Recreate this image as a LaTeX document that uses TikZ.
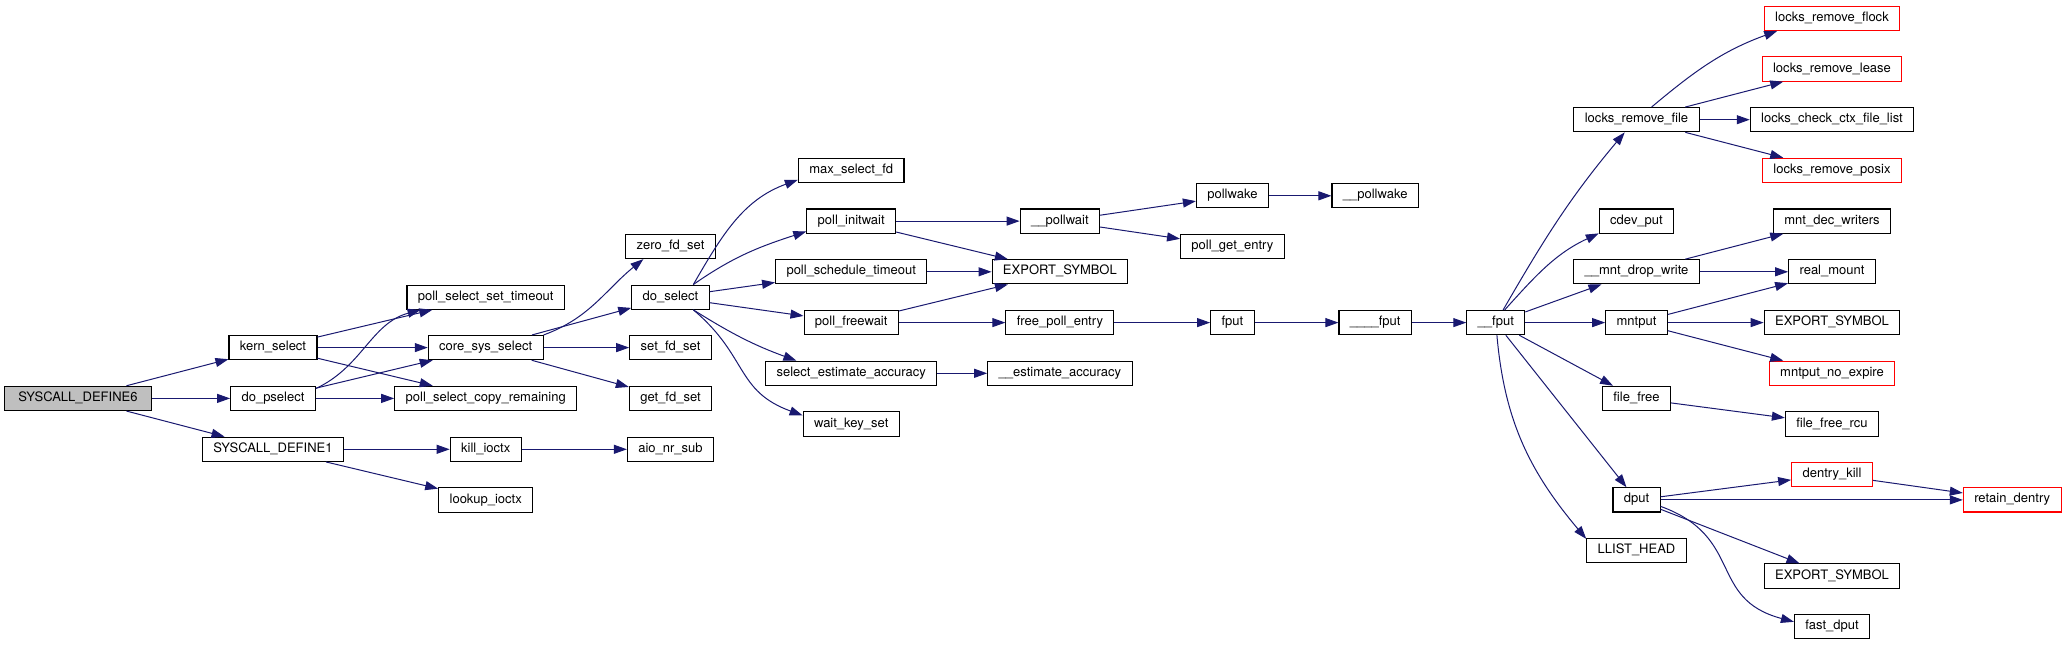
\documentclass[tikz,border=0pt]{standalone}
\usepackage{fontspec}
\setmainfont{TeX Gyre Heros}
\usepackage{xcolor}
\usepackage{tikz}
\usetikzlibrary{arrows.meta}

\definecolor{callblue}{HTML}{191970}
\definecolor{refred}{HTML}{FF0000}
\definecolor{rootgray}{HTML}{BFBFBF}

\begin{document}
\begin{tikzpicture}[>={Triangle[length=13pt,width=9pt]}, x=1pt, y=-1pt,
    fn/.style={draw=black, line width=1.1pt, fill=white, minimum height=24.2pt,
        inner xsep=10.9pt, inner ysep=0pt, text height=9.5pt, text depth=3.5pt,
        font=\fontsize{13}{15}\selectfont},
    fnred/.style={fn, draw=refred},
    fnroot/.style={fn, fill=rootgray, minimum width=146.7pt},
    callarr/.style={->, draw=callblue, line width=1pt}]
    \useasboundingbox (0,0) rectangle (2067,645);

    % Vẽ các nút
    \node[fnroot] (sysdef6) at (78,398.4) {SYSCALL\_DEFINE6};
    \node[fn] (kernsel) at (273,347.6) {kern\_select};
    \node[fn] (dopsel) at (273,398.4) {do\_pselect};
    \node[fn] (sysdef1) at (273,449.3) {SYSCALL\_DEFINE1};
    \node[fn] (settimeout) at (485.7,297.2) {poll\_select\_set\_timeout};
    \node[fn] (coresel) at (485.7,347.6) {core\_sys\_select};
    \node[fn] (copyrem) at (485.7,398.4) {poll\_select\_copy\_remaining};
    \node[fn] (killio) at (485.7,449.3) {kill\_ioctx};
    \node[fn] (lookupio) at (485.7,500) {lookup\_ioctx};
    \node[fn] (zerofd) at (670.5,246.5) {zero\_fd\_set};
    \node[fn] (dosel) at (670.5,297.2) {do\_select};
    \node[fn] (setfd) at (670.5,347.6) {set\_fd\_set};
    \node[fn] (getfd) at (670.5,398.4) {get\_fd\_set};
    \node[fn] (aiosub) at (670.5,449.3) {aio\_nr\_sub};
    \node[fn] (maxfd) at (851.2,170.4) {max\_select\_fd};
    \node[fn] (initwait) at (851.2,221.1) {poll\_initwait};
    \node[fn] (schedto) at (851.2,271.8) {poll\_schedule\_timeout};
    \node[fn] (freewait) at (851.2,322.6) {poll\_freewait};
    \node[fn] (selest) at (851.2,373.3) {select\_estimate\_accuracy};
    \node[fn] (waitkey) at (851.2,424) {wait\_key\_set};
    \node[fn] (pollwait) at (1059.9,221.1) {\_\_pollwait};
    \node[fn] (export1) at (1059.9,271.8) {EXPORT\_SYMBOL};
    \node[fn] (freeentry) at (1059.9,322.6) {free\_poll\_entry};
    \node[fn] (estacc) at (1059.9,373.3) {\_\_estimate\_accuracy};
    \node[fn] (pollwake) at (1232.4,195.8) {pollwake};
    \node[fn] (getentry) at (1232.4,246.5) {poll\_get\_entry};
    \node[fn] (fput) at (1232.4,322.6) {fput};
    \node[fn] (pollwaketwo) at (1375.2,195.8) {\_\_pollwake};
    \node[fn] (fputfour) at (1375.2,322.6) {\_\_\_\_fput};
    \node[fn] (fputtwo) at (1495.8,322.6) {\_\_fput};
    \node[fn] (rmfile) at (1636.5,119.7) {locks\_remove\_file};
    \node[fn] (cdevput) at (1636.5,221.1) {cdev\_put};
    \node[fn] (dropwrite) at (1636.5,271.8) {\_\_mnt\_drop\_write};
    \node[fn] (mntput) at (1636.5,322.6) {mntput};
    \node[fn] (filefree) at (1636.5,398.4) {file\_free};
    \node[fn] (dput) at (1636.5,499.9) {dput};
    \node[fn] (llisthead) at (1636.5,550.5) {LLIST\_HEAD};
    \node[fnred] (rmflock) at (1832,18.3) {locks\_remove\_flock};
    \node[fnred] (rmlease) at (1832,69) {locks\_remove\_lease};
    \node[fn] (checkctx) at (1832,119.7) {locks\_check\_ctx\_file\_list};
    \node[fnred] (rmposix) at (1832,170.4) {locks\_remove\_posix};
    \node[fn] (decwriters) at (1832,221.1) {mnt\_dec\_writers};
    \node[fn] (realmount) at (1832,271.8) {real\_mount};
    \node[fn] (export2) at (1832,322.6) {EXPORT\_SYMBOL};
    \node[fnred] (noexpire) at (1832,373.3) {mntput\_no\_expire};
    \node[fn] (freercu) at (1832,424) {file\_free\_rcu};
    \node[fnred] (dkill) at (1832,474.6) {dentry\_kill};
    \node[fn] (export3) at (1832,576) {EXPORT\_SYMBOL};
    \node[fn] (fastdput) at (1832,626.5) {fast\_dput};
    \node[fnred] (retain) at (2012.2,499.9) {retain\_dentry};

    % Vẽ các mũi tên
    \draw[callarr] (sysdef6) -- (kernsel);
    \draw[callarr] (sysdef6) -- (dopsel);
    \draw[callarr] (sysdef6) -- (sysdef1);
    \draw[callarr] (kernsel) -- (settimeout);
    \draw[callarr] (kernsel) -- (coresel);
    \draw[callarr] (kernsel) -- (copyrem);
    \draw[callarr] (dopsel.13) to[out=25, in=195] (settimeout.191);
    \draw[callarr] (dopsel) -- (coresel);
    \draw[callarr] (dopsel) -- (copyrem);
    \draw[callarr] (sysdef1) -- (killio);
    \draw[callarr] (sysdef1) -- (lookupio);
    \draw[callarr] (coresel.north east) to[out=20, in=219] (zerofd.205);
    \draw[callarr] (coresel) -- (dosel);
    \draw[callarr] (coresel) -- (setfd);
    \draw[callarr] (coresel) -- (getfd);
    \draw[callarr] (killio) -- (aiosub);
    \draw[callarr] (dosel.29) to[out=60, in=200] (maxfd.190);
    \draw[callarr] (dosel.29) to[out=35, in=198] (initwait.193);
    \draw[callarr] (dosel) -- (schedto);
    \draw[callarr] (dosel) -- (freewait);
    \draw[callarr] (dosel.-29) to[out=-32, in=160] (selest.167);
    \draw[callarr] (dosel.-29) to[out=-40, in=160, looseness=1.2] (waitkey.170);
    \draw[callarr] (initwait) -- (pollwait);
    \draw[callarr] (initwait) -- (export1);
    \draw[callarr] (schedto) -- (export1);
    \draw[callarr] (freewait) -- (export1);
    \draw[callarr] (freewait) -- (freeentry);
    \draw[callarr] (selest) -- (estacc);
    \draw[callarr] (pollwait) -- (pollwake);
    \draw[callarr] (pollwait) -- (getentry);
    \draw[callarr] (pollwake) -- (pollwaketwo);
    \draw[callarr] (freeentry) -- (fput);
    \draw[callarr] (fput) -- (fputfour);
    \draw[callarr] (fputfour) -- (fputtwo);
    \draw[callarr] (fputtwo.60) to[out=60, in=230] (rmfile.227);
    \draw[callarr] (fputtwo.55) to[out=48, in=205] (cdevput.198);
    \draw[callarr] (fputtwo) -- (dropwrite);
    \draw[callarr] (fputtwo) -- (mntput);
    \draw[callarr] (fputtwo) -- (filefree);
    \draw[callarr] (fputtwo) -- (dput);
    \draw[callarr] (fputtwo.-85) to[out=-85, in=130] (llisthead.167);
    \draw[callarr] (rmfile.40) to[out=40, in=200] (rmflock.193);
    \draw[callarr] (rmfile) -- (rmlease);
    \draw[callarr] (rmfile) -- (checkctx);
    \draw[callarr] (rmfile) -- (rmposix);
    \draw[callarr] (dropwrite) -- (decwriters);
    \draw[callarr] (dropwrite) -- (realmount);
    \draw[callarr] (mntput) -- (realmount);
    \draw[callarr] (mntput) -- (export2);
    \draw[callarr] (mntput) -- (noexpire);
    \draw[callarr] (filefree) -- (freercu);
    \draw[callarr] (dput) -- (dkill);
    \draw[callarr] (dput) -- (retain);
    \draw[callarr] (dkill) -- (retain);
    \draw[callarr] (dput) -- (export3);
    \draw[callarr] (dput.-15) to[out=-20, in=165, looseness=1.3] (fastdput.173);

\end{tikzpicture}
\end{document}
